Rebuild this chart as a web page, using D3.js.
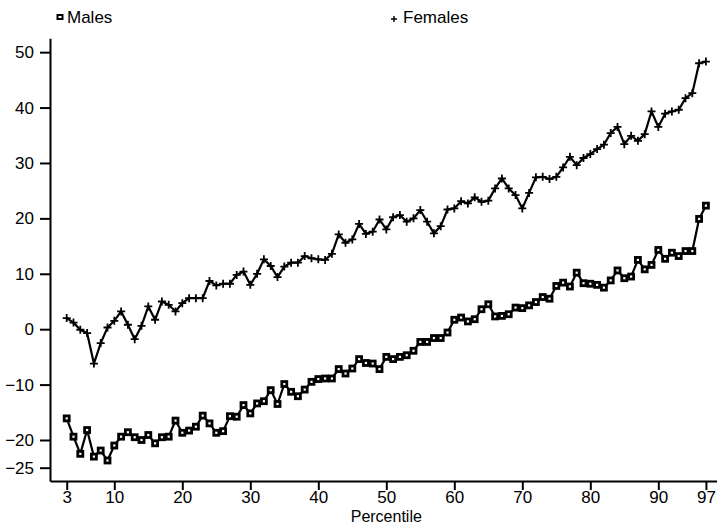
<!DOCTYPE html>
<html>
<head>
<meta charset="utf-8">
<script src="https://cdn.jsdelivr.net/npm/d3@7"></script>
<style>
  body { margin: 0; background: #fff; }
  svg { display: block; }
  text { font-family: "Liberation Sans", Arial, sans-serif; fill: #000; }
</style>
</head>
<body>
<svg width="717" height="526"></svg>
<script>
// percentiles 3..97
var percentiles = d3.range(3, 98);

var males = [
  -16.1, -19.4, -22.5, -18.2, -23.0, -21.9, -23.7, -21.0, -19.4, -18.6,
  -19.5, -20.0, -19.1, -20.6, -19.5, -19.4, -16.5, -18.7, -18.3, -17.6,
  -15.6, -17.0, -18.7, -18.4, -15.7, -15.8, -13.7, -15.2, -13.4, -13.0,
  -11.0, -13.5, -9.9, -11.3, -12.1, -10.9, -9.5, -9.0, -8.9, -8.9,
  -7.2, -8.0, -7.1, -5.4, -6.1, -6.2, -7.2, -5.0, -5.4, -5.0,
  -4.7, -3.9, -2.3, -2.3, -1.6, -1.6, -0.6, 1.7, 2.1, 1.4,
  1.8, 3.6, 4.5, 2.3, 2.4, 2.7, 3.9, 3.8, 4.3, 4.9,
  5.8, 5.5, 7.8, 8.4, 7.7, 10.2, 8.3, 8.2, 8.0, 7.5,
  8.8, 10.6, 9.2, 9.5, 12.5, 10.8, 11.6, 14.3, 12.7, 13.8,
  13.2, 14.1, 14.1, 19.9, 22.3
];

var females = [
  2.0, 1.2, -0.1, -0.7, -6.2, -2.5, 0.3, 1.5, 3.2, 0.8,
  -1.8, 0.6, 4.1, 1.7, 5.0, 4.4, 3.2, 4.7, 5.6, 5.6,
  5.6, 8.7, 7.9, 8.2, 8.2, 9.8, 10.4, 8.0, 10.0, 12.6,
  11.4, 9.4, 11.3, 12.0, 12.0, 13.2, 12.8, 12.6, 12.5, 13.6,
  17.1, 15.6, 16.2, 19.0, 17.2, 17.6, 19.8, 18.0, 20.2, 20.6,
  19.4, 20.0, 21.5, 19.4, 17.3, 18.6, 21.6, 21.8, 23.1, 22.7,
  23.8, 23.0, 23.2, 25.4, 27.2, 25.4, 24.2, 21.8, 24.6, 27.4,
  27.5, 27.1, 27.5, 29.2, 31.1, 29.6, 30.9, 31.6, 32.5, 33.3,
  35.4, 36.5, 33.4, 34.9, 34.0, 35.2, 39.3, 36.5, 38.9, 39.3,
  39.6, 41.7, 42.6, 48.0, 48.3
];

var xTicks = [3, 10, 20, 30, 40, 50, 60, 70, 80, 90, 97];
var yTicks = [50, 40, 30, 20, 10, 0, -10, -20, -25];

var narrow = '"Liberation Sans Narrow", "Arial Narrow", "Liberation Sans", sans-serif';

var svg = d3.select('svg');

var x = d3.scaleLinear().domain([0.544, 98.63]).range([50, 717]);
var y = d3.scaleLinear().domain([-27.4, 52.5]).range([481, 38.3]);

// axes
var xAxis = svg.append('g')
  .attr('transform', 'translate(0,481)')
  .call(d3.axisBottom(x).tickValues(xTicks).tickSize(9).tickPadding(1).tickSizeOuter(0));
xAxis.select('.domain').attr('stroke-width', 2);
xAxis.selectAll('.tick line').attr('stroke-width', 2);
xAxis.selectAll('.tick text')
  .style('font-family', narrow)
  .style('font-size', '17px');

var yAxis = svg.append('g')
  .attr('transform', 'translate(50,0)')
  .call(d3.axisLeft(y).tickValues(yTicks).tickSize(10).tickPadding(6).tickSizeOuter(0));
yAxis.select('.domain').attr('stroke-width', 2);
yAxis.selectAll('.tick line').attr('stroke-width', 2);
yAxis.selectAll('.tick text').style('font-size', '17px');

svg.selectAll('.domain, .tick line').attr('stroke', '#000');
svg.selectAll('.tick text').attr('fill', '#000');

svg.append('text')
  .attr('x', x(50))
  .attr('y', 522)
  .attr('text-anchor', 'middle')
  .style('font-family', narrow)
  .style('font-size', '16px')
  .text('Percentile');

var line = d3.line()
  .x(function(d, i){ return x(percentiles[i]); })
  .y(function(d){ return y(d); });

svg.append('path').datum(females)
  .attr('d', line).attr('fill', 'none').attr('stroke', '#000').attr('stroke-width', 2.2);
svg.append('path').datum(males)
  .attr('d', line).attr('fill', 'none').attr('stroke', '#000').attr('stroke-width', 2.2);

// markers
svg.append('g').selectAll('path')
  .data(females).enter().append('path')
  .attr('d', function(d, i){
    var cx = x(percentiles[i]), cy = y(d);
    return 'M' + (cx - 4) + ',' + cy + 'H' + (cx + 4) + 'M' + cx + ',' + (cy - 4) + 'V' + (cy + 4);
  })
  .attr('stroke', '#000').attr('stroke-width', 1.8);

svg.append('g').selectAll('rect')
  .data(males).enter().append('rect')
  .attr('x', function(d, i){ return x(percentiles[i]) - 2.5; })
  .attr('y', function(d){ return y(d) - 2.5; })
  .attr('width', 5).attr('height', 5)
  .attr('fill', '#fff').attr('stroke', '#000').attr('stroke-width', 2.8);

// legend
svg.append('rect').attr('x', 57.5).attr('y', 15).attr('width', 5).attr('height', 4)
  .attr('fill', '#fff').attr('stroke', '#000').attr('stroke-width', 2);
svg.append('text').attr('x', 67).attr('y', 23).style('font-size', '17px').text('Males');
svg.append('path').attr('d', 'M391,19H397M394,16V22').attr('stroke', '#000').attr('stroke-width', 1.4);
svg.append('text').attr('x', 403).attr('y', 23).style('font-size', '17px').text('Females');
</script>
</body>
</html>
